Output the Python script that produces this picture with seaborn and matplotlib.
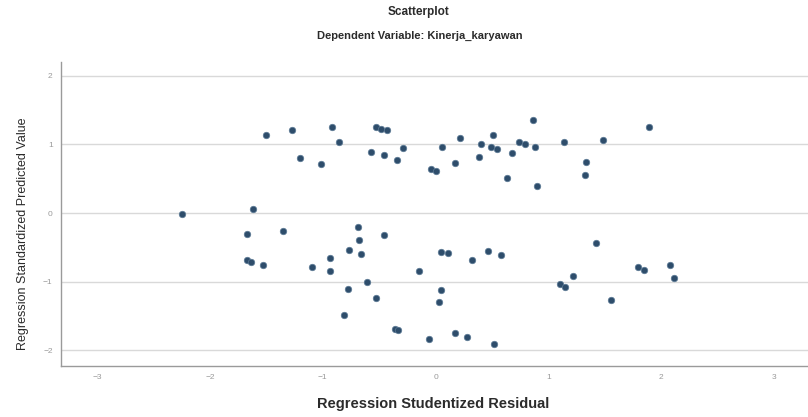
import numpy as np
import pandas as pd
import matplotlib.pyplot as plt
import seaborn as sns

# values (studentized residual, standardized predicted value)
resid_upper = [-1.50, -1.27, -1.20, -1.02, -0.92, -0.86, -0.53, -0.48, -0.43, -0.57,
               -0.46, -0.29, -0.34, 0.06, -0.04, 0.00, 0.22, 0.17, 0.40, 0.38,
               0.51, 0.49, 0.54, 0.68, 0.74, 0.79, 0.88, 0.86, 1.14, 0.63,
               0.90, 1.48, 1.33, 1.32, 1.89]
pred_upper = [1.14, 1.21, 0.80, 0.72, 1.25, 1.03, 1.25, 1.23, 1.21, 0.89,
              0.84, 0.95, 0.77, 0.97, 0.64, 0.62, 1.09, 0.73, 1.00, 0.82,
              1.14, 0.97, 0.94, 0.87, 1.03, 1.01, 0.97, 1.36, 1.04, 0.51,
              0.39, 1.06, 0.75, 0.56, 1.25]
resid_lower = [-2.25, -1.62, -1.67, -1.35, -1.67, -1.64, -1.53, -1.10, -0.69, -0.68,
               -0.46, -0.77, -0.66, -0.94, -0.94, -0.15, 0.05, 0.11, -0.61, -0.78,
               -0.53, 0.05, 0.03, -0.81, -0.36, -0.33, -0.06, 0.32, 0.46, 0.58,
               0.17, 0.28, 0.52, 1.10, 1.15, 1.22, 1.42, 1.55, 1.79, 1.85,
               2.08, 2.11]
pred_lower = [-0.02, 0.06, -0.31, -0.26, -0.69, -0.71, -0.75, -0.78, -0.20, -0.39,
              -0.32, -0.54, -0.59, -0.65, -0.84, -0.84, -0.56, -0.58, -1.00, -1.11,
              -1.23, -1.12, -1.30, -1.48, -1.69, -1.71, -1.83, -0.68, -0.55, -0.61,
              -1.75, -1.80, -1.91, -1.04, -1.07, -0.91, -0.44, -1.26, -0.78, -0.83,
              -0.75, -0.94]

x_ticks = [-3, -2, -1, 0, 1, 2, 3]
y_ticks = [-2, -1, 0, 1, 2]

df = pd.DataFrame({
    "resid": resid_upper + resid_lower,
    "pred": pred_upper + pred_lower,
})

sns.set_style("white")
plt.rcParams['font.family'] = ['Liberation Sans', 'DejaVu Sans']

fig = plt.figure(figsize=(8.08, 4.17), dpi=100)
ax = fig.add_axes([0.0755, 0.122, 0.9245, 0.729])

for yv in y_ticks:
    ax.axhline(yv, color="#d9d9d9", lw=1.0, zorder=0)

sns.scatterplot(data=df, x="resid", y="pred", ax=ax, s=22, color="#2e4d6b",
                edgecolor="#5d7b96", linewidth=0.5, zorder=3)

ax.set_xlim(-3.32, 3.3)
ax.set_ylim(-2.23, 2.2)
ax.set_xticks(x_ticks)
ax.set_yticks(y_ticks)
ax.tick_params(axis="both", length=0, labelsize=6, labelcolor="#9a9a9a", pad=6)

for side in ["top", "right"]:
    ax.spines[side].set_visible(False)
for side in ["left", "bottom"]:
    ax.spines[side].set_color("#9a9a9a")
    ax.spines[side].set_linewidth(1.0)

ax.set_xlabel("Regression Studentized Residual", fontsize=10.5, fontweight="bold",
              color="#2b2b2b")
ax.xaxis.set_label_coords(0.498, -0.1)
ax.set_ylabel("Regression Standardized Predicted Value", fontsize=9,
              color="#2b2b2b")
ax.yaxis.set_label_coords(-0.043, 0.434)

fig.text(0.518, 0.985, "Scatterplot", ha="center", va="top", fontsize=8.5,
         fontweight="bold", color="#2b2b2b")
fig.text(0.52, 0.926, "Dependent Variable: Kinerja_karyawan", ha="center", va="top",
         fontsize=8, fontweight="bold", color="#2b2b2b")

fig.savefig("out.png", dpi=100)
